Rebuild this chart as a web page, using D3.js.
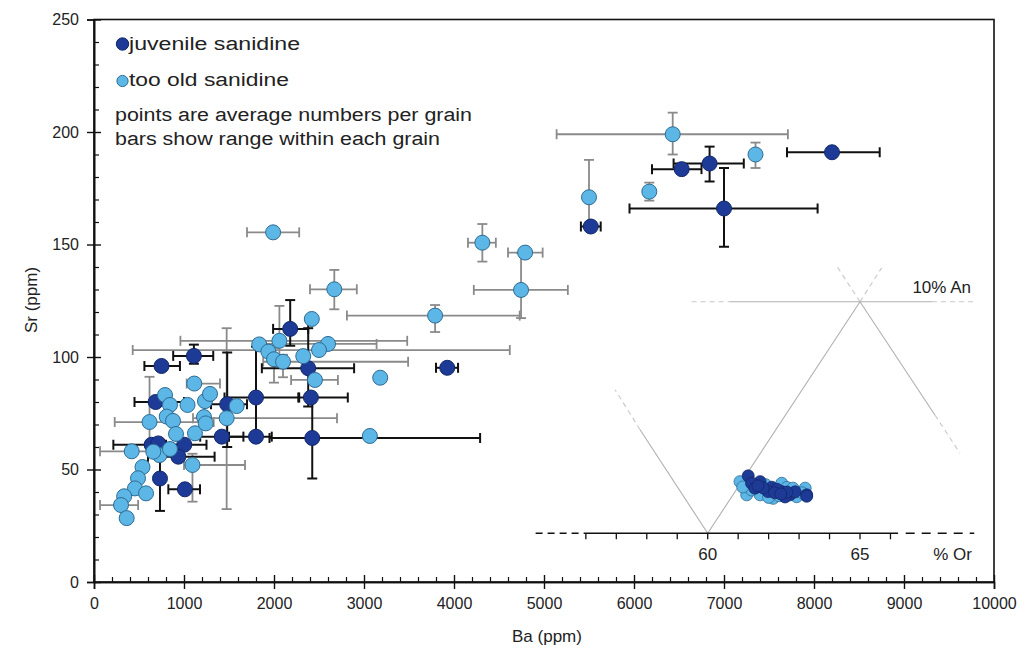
<!DOCTYPE html>
<html><head><meta charset="utf-8">
<script src="https://cdn.jsdelivr.net/npm/d3@7"></script>
<style>body{margin:0;background:#fff}svg{display:block}text{font-family:"Liberation Sans",Arial,sans-serif;fill:#222}</style>
</head><body><svg id="c" width="1025" height="659"></svg>
<script>
// ---- data: [Ba, Sr, BaMin, BaMax, SrMin, SrMax] (ppm), null = no bar
const juvenile = [
 [8200,191,7700,8730,null,null],[6840,186,6440,7220,178,193.5],[6530,183.5,6200,6750,null,null],
 [7000,166,5950,8040,149,184],[5520,158,5410,5630,null,null],[3925,95.2,3800,4045,null,null],
 [2180,112.5,1990,2380,105,125.3],[2380,95,1865,2890,78,112.8],[2410,82,2280,2820,null,null],
 [1800,82,1450,2270,64,104.6],[1800,64.6,1500,1975,null,null],[2425,64,1950,4290,46,82],
 [1110,100.5,880,1325,97,105.5],[750,96,560,955,null,null],[685,80,450,1000,null,null],
 [1480,79,1300,1700,60,102],[1420,64.6,1180,1660,null,null],[640,61,215,1000,null,null],
 [1003,61,800,1250,null,null],[714,61.6,null,null,null,null],[937,55.7,600,1340,null,null],
 [733,46,null,null,31.6,55],[1010,41.2,826,1178,null,null]
];
const tooOld = [
 [6430,199,5140,7710,190,208.6],[7350,190,null,null,184,195.3],[6170,173.5,null,null,169.5,177.5],
 [5500,171,null,null,158,187.6],[4790,146.4,4600,4985,null,null],[4745,129.8,4220,5265,117.3,146.2],
 [4315,150.8,4155,4465,142.4,159.1],[1990,155.4,1700,2280,null,null],[2670,130.1,2400,2920,121.2,138.7],
 [3790,118.4,2810,4730,111.1,123.1],[2420,116.9,null,null,null,null],[3180,90.8,null,null,null,null],
 [3065,64.9,null,null,null,null],[1836,105.6,null,null,null,null],[2060,107.2,960,3480,100,122.7],
 [2600,105.8,1790,3140,null,null],[2500,103.1,430,4620,null,null],[2325,100.4,null,null,null,null],
 [1937,102.4,null,null,null,null],[2000,99,null,null,88.6,104],[2100,97.9,1880,3490,91,101],
 [2455,89.8,2190,2710,null,null],[1114,88.2,1030,1400,null,null],[789,83.1,null,null,null,null],
 [844,78.7,null,null,null,null],[1039,78.7,null,null,null,null],[1233,80.4,null,null,null,null],
 [1289,83.6,null,null,null,null],[1585,78.2,null,null,null,null],[1222,73.3,null,null,null,null],
 [1474,72.8,1100,2700,32.4,112.8],[617,71.1,230,1330,60,91.2],[808,73.5,null,null,null,null],
 [878,71.6,null,null,null,null],[1122,66.1,null,null,null,null],[911,65.8,null,null,null,null],
 [419,58.1,67,900,null,null],[728,56.4,null,null,null,null],[844,59.1,null,null,null,null],
 [659,57.9,null,null,null,null],[1094,52,1000,1678,35.7,57],[539,51.1,null,null,null,null],
 [489,46.1,null,null,null,null],[455,41.6,null,null,null,null],[578,39.4,null,null,null,null],
 [335,38.1,null,null,null,null],[300,34.2,67,490,null,null],[363,28.4,null,null,null,null],
 [1241,70.5,null,null,null,null]
];
const xTicks = [0,1000,2000,3000,4000,5000,6000,7000,8000,9000,10000];
const yTicks = [0,50,100,150,200,250];
const legendLabels = ["juvenile sanidine","too old sanidine"];
const noteLines = ["points are average numbers per grain","bars show range within each grain"];
// inset: feldspar composition (% Or, % An)
const insetOldOr = [61.06,61.28,61.72,62.15,62.43,63.20,62.92,61.44,61.15,61.60,62.00,62.60,62.80,63.10,62.35,61.90];
const insetOldAn = [2.23,1.66,1.66,1.51,2.16,1.95,1.58,1.87,2.00,2.05,1.55,1.98,1.95,1.75,1.62,2.10];
const insetJuvOr = [61.33,61.72,61.44,62.10,62.43,62.27,62.70,63.25,61.98,61.82,62.87,62.54,61.55,62.20,62.60,62.40,61.65,63.25];
const insetJuvAn = [2.48,2.23,2.16,1.99,1.80,1.90,1.66,1.66,1.80,1.96,1.79,1.57,1.95,1.75,1.78,1.70,2.05,1.60];
const insetTicks = [56,57,58,59,60,61,62,63,64,65,66];
const insetLabels = [60,65];
// construction lines [Or1,An1,Or2,An2,dashed]
const insetLines = [
 [60,0,57.78,4.47,0],[57.78,4.47,56.96,6.2,1],
 [60,0,65,10,0],[65,10,65.71,11.46,1],
 [65,10,67.46,5.11,0],[67.46,5.11,68.28,3.46,1],
 [65,10,64.24,11.53,1],
 [59.47,10,60.73,10,1],[60.73,10,67.36,10,0],[67.36,10,68.71,10,1]
];

const svg = d3.select("#c");
const x = d3.scaleLinear().domain([0,10000]).range([94,994]);
const y = d3.scaleLinear().domain([0,250]).range([582,19.5]);

// frame
svg.append("rect").attr("x",94).attr("y",19.5).attr("width",900).attr("height",562.5)
  .attr("fill","none").attr("stroke","#111").attr("stroke-width",1.6);

// axes
const xMinor = d3.range(0,10001,200).filter(v=>v%1000);
const yMinor = d3.range(0,251,10).filter(v=>v%50);
const gx = svg.append("g").attr("transform","translate(0,582)");
gx.call(d3.axisBottom(x).tickValues(xTicks).tickFormat(d3.format("d")).tickSize(7).tickPadding(9));
gx.selectAll(".tick line").attr("y1",-7).attr("y2",7).attr("stroke","#111").attr("stroke-width",1.4);
gx.append("g").call(d3.axisBottom(x).tickValues(xMinor).tickFormat("").tickSizeInner(-5).tickSizeOuter(0))
  .selectAll(".tick line").attr("stroke","#111").attr("stroke-width",1.2);
const gy = svg.append("g").attr("transform","translate(94,0)");
gy.call(d3.axisLeft(y).tickValues(yTicks).tickSize(7).tickPadding(8));
gy.selectAll(".tick line").attr("x1",-7).attr("x2",7).attr("stroke","#111").attr("stroke-width",1.4);
gy.append("g").call(d3.axisLeft(y).tickValues(yMinor).tickFormat("").tickSizeInner(-5).tickSizeOuter(0))
  .selectAll(".tick line").attr("stroke","#111").attr("stroke-width",1.2);
svg.selectAll(".domain").attr("stroke","#111").attr("stroke-width",1.6);
svg.selectAll(".tick text").style("font-family","'Liberation Sans',Arial,sans-serif").style("font-size","16px").attr("fill","#222");

svg.append("text").attr("x",547).attr("y",642).attr("text-anchor","middle").style("font-size","17px").text("Ba (ppm)");
svg.append("text").attr("transform","translate(37,300) rotate(-90)").attr("text-anchor","middle").style("font-size","17px").text("Sr (ppm)");

// inset
const io = d3.scaleLinear().domain([60,65]).range([707.7,860]);
const ia = d3.scaleLinear().domain([0,10]).range([533.3,301.7]);
const gi = svg.append("g");
gi.selectAll("line.c").data(insetLines).join("line")
  .attr("x1",d=>io(d[0])).attr("y1",d=>ia(d[1])).attr("x2",d=>io(d[2])).attr("y2",d=>ia(d[3]))
  .attr("stroke",d=>d[4]?"#c8c8c8":"#b0b0b0").attr("stroke-width",1.1)
  .attr("stroke-dasharray",d=>d[4]?"5,4":null);
gi.append("line").attr("x1",io(56)).attr("x2",io(66.25)).attr("y1",ia(0)).attr("y2",ia(0)).attr("stroke","#111").attr("stroke-width",1.6);
gi.append("line").attr("x1",io(54.35)).attr("x2",io(56)).attr("y1",ia(0)).attr("y2",ia(0)).attr("stroke","#111").attr("stroke-width",1.6).attr("stroke-dasharray","7,5");
gi.append("line").attr("x1",io(66.5)).attr("x2",io(68.75)).attr("y1",ia(0)).attr("y2",ia(0)).attr("stroke","#111").attr("stroke-width",1.6).attr("stroke-dasharray","9,7");
gi.selectAll("line.t").data(insetTicks).join("line")
  .attr("x1",d=>io(d)).attr("x2",d=>io(d)).attr("y1",ia(0)).attr("y2",ia(0)+6).attr("stroke","#111").attr("stroke-width",1.3);
gi.selectAll("text.l").data(insetLabels).join("text").attr("x",d=>io(d)).attr("y",560).attr("text-anchor","middle").style("font-size","17px").text(d=>d);
gi.append("text").attr("x",972).attr("y",560).attr("text-anchor","end").style("font-size","17px").text("% Or");
gi.append("text").attr("x",971).attr("y",293).attr("text-anchor","end").style("font-size","17px").text("10% An");

// colours
const darkFill="#1d3b96", darkStroke="#13286b", lightFill="#5cb6e6", lightStroke="#2f6b93";

// error bars
function bars(data,color,width){
  const g = svg.append("g").attr("stroke",color).attr("stroke-width",width).attr("fill","none");
  data.forEach(d=>{
    if(d[2]!=null){
      g.append("line").attr("x1",x(d[2])).attr("x2",x(d[3])).attr("y1",y(d[1])).attr("y2",y(d[1]));
      [d[2],d[3]].forEach(v=>g.append("line").attr("x1",x(v)).attr("x2",x(v)).attr("y1",y(d[1])-5).attr("y2",y(d[1])+5));
    }
    if(d[4]!=null){
      g.append("line").attr("x1",x(d[0])).attr("x2",x(d[0])).attr("y1",y(d[4])).attr("y2",y(d[5]));
      [d[4],d[5]].forEach(v=>g.append("line").attr("x1",x(d[0])-5).attr("x2",x(d[0])+5).attr("y1",y(v)).attr("y2",y(v)));
    }
  });
}
bars(tooOld,"#8a8a8a",1.8);
bars(juvenile,"#111",2);

svg.append("g").selectAll("circle").data(juvenile).join("circle")
  .attr("cx",d=>x(d[0])).attr("cy",d=>y(d[1])).attr("r",7.5)
  .attr("fill",darkFill).attr("stroke",darkStroke).attr("stroke-width",1);
svg.append("g").selectAll("circle").data(tooOld).join("circle")
  .attr("cx",d=>x(d[0])).attr("cy",d=>y(d[1])).attr("r",7.5)
  .attr("fill",lightFill).attr("stroke",lightStroke).attr("stroke-width",1);

// inset points
gi.selectAll("circle.o").data(insetOldOr).join("circle")
  .attr("cx",d=>io(d)).attr("cy",(d,i)=>ia(insetOldAn[i])).attr("r",6)
  .attr("fill",lightFill).attr("stroke",lightStroke).attr("stroke-width",0.8);
gi.selectAll("circle.j").data(insetJuvOr).join("circle")
  .attr("cx",d=>io(d)).attr("cy",(d,i)=>ia(insetJuvAn[i])).attr("r",6)
  .attr("fill",darkFill).attr("stroke",darkStroke).attr("stroke-width",0.8);

// legend
const lg = svg.append("g");
[[darkFill,darkStroke,44,6.2],[lightFill,lightStroke,81,5.6]].forEach((c,i)=>{
  lg.append("circle").attr("cx",122.5).attr("cy",c[2]).attr("r",c[3]).attr("fill",c[0]).attr("stroke",c[1]);
});
lg.append("text").attr("x",129).attr("y",50).style("font-size","18px").attr("textLength",171).attr("lengthAdjust","spacingAndGlyphs").text(legendLabels[0]);
lg.append("text").attr("x",129).attr("y",86).style("font-size","18px").attr("textLength",160).attr("lengthAdjust","spacingAndGlyphs").text(legendLabels[1]);
lg.append("text").attr("x",115).attr("y",121).style("font-size","18px").attr("textLength",357).attr("lengthAdjust","spacingAndGlyphs").text(noteLines[0]);
lg.append("text").attr("x",115).attr("y",145).style("font-size","18px").attr("textLength",325).attr("lengthAdjust","spacingAndGlyphs").text(noteLines[1]);
</script></body></html>
